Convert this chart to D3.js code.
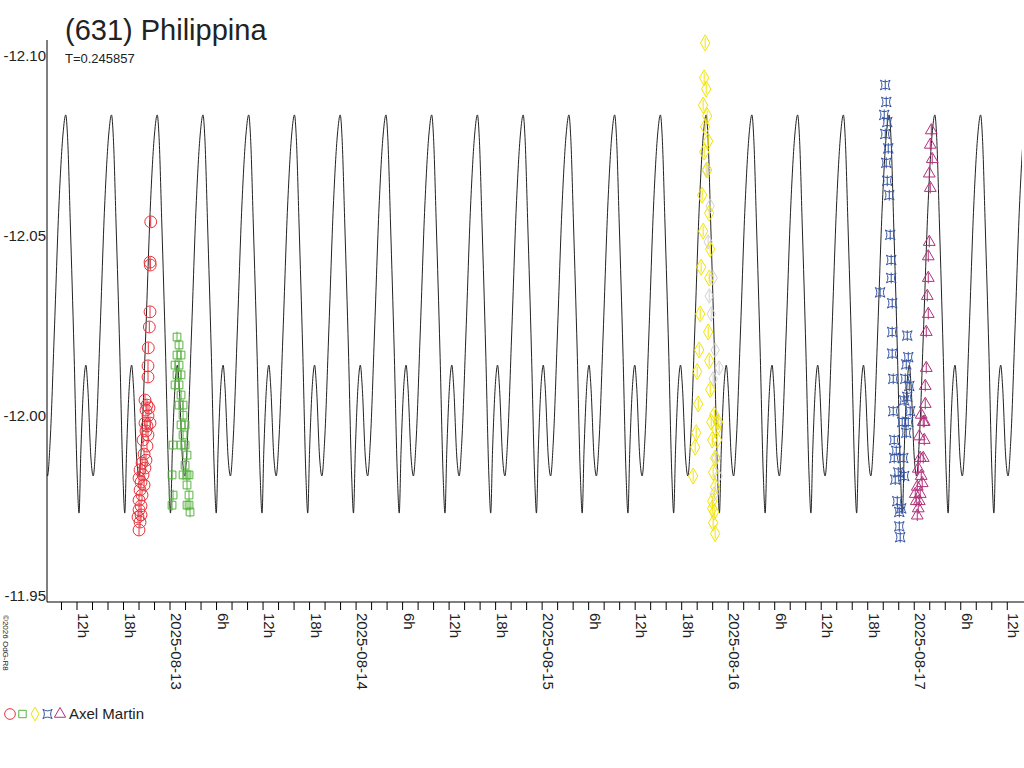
<!DOCTYPE html>
<html><head><meta charset="utf-8">
<script src="https://cdn.jsdelivr.net/npm/d3@7"></script>
<style>body{margin:0;background:#fff}svg{font-family:"Liberation Sans",Arial,sans-serif}</style>
</head><body><svg id="c" width="1024" height="768"></svg>
<script>
const TITLE = "(631) Philippina";
const PERIOD = 0.245857;           // days
const EPOCH_H = -13.45;            // hours from 2025-08-13 00:00, main maximum
// one period of the fitted lightcurve: [phase, mag]
const shape = [[0,-12.0853],[0.04,-12.079],[0.10,-12.055],[0.18,-12.02],[0.25,-11.985],[0.29,-11.9747],
  [0.33,-11.992],[0.40,-12.012],[0.44,-12.0158],[0.48,-12.010],[0.55,-11.99],[0.60,-11.985],
  [0.66,-11.995],[0.75,-12.025],[0.85,-12.06],[0.94,-12.08]];
const yTicks = [-12.10,-12.05,-12.00,-11.95];
const dayLabels = ["2025-08-13","2025-08-14","2025-08-15","2025-08-16","2025-08-17"];
const observer = "Axel Martin";
// observations: [hours from 2025-08-13 00:00, mag]
const red = [[-2.49,-12.0556],[-2.58,-12.0444],[-2.55,-12.0436],[-2.58,-12.0306],[-2.67,-12.0264],[-2.80,-12.0206],[-2.84,-12.0156],[-2.84,-12.0125],[-3.23,-12.0061],[-2.97,-12.0047],[-2.71,-12.0039],[-3.10,-12.0033],[-2.84,-12.0017],[-3.23,-11.9997],[-2.97,-11.9989],[-2.58,-11.9997],[-3.10,-11.9975],[-2.84,-11.9964],[-3.48,-11.995],[-2.97,-11.9933],[-3.35,-11.9911],[-3.10,-11.9894],[-3.61,-11.9886],[-3.23,-11.9872],[-3.87,-11.9867],[-3.48,-11.9853],[-4.0,-11.9844],[-3.74,-11.9833],[-3.35,-11.9825],[-3.87,-11.9811],[-3.61,-11.9797],[-4.0,-11.9783],[-3.74,-11.9767],[-4.0,-11.9756],[-3.74,-11.9742],[-4.13,-11.9736],[-3.87,-11.9722],[-4.0,-11.97]];
const green = [[0.90,-12.0236],[1.16,-12.0214],[0.90,-12.0186],[1.42,-12.0186],[0.65,-12.0158],[1.16,-12.0158],[1.42,-12.0131],[0.90,-12.0131],[1.16,-12.0103],[0.65,-12.0103],[1.42,-12.0075],[1.68,-12.0047],[1.16,-12.0047],[1.68,-12.0019],[1.42,-11.9992],[1.94,-11.9992],[1.68,-11.9964],[1.94,-11.9936],[1.42,-11.9936],[2.19,-11.9908],[1.94,-11.988],[2.19,-11.9853],[1.68,-11.9853],[2.45,-11.9853],[2.19,-11.9825],[2.45,-11.9797],[2.19,-11.9769],[2.58,-11.975],[0.39,-11.9936],[0.26,-11.9853],[0.39,-11.9797],[0.26,-11.9769],[2.45,-11.9769]];
const grey = [[69.16,-12.07],[69.68,-12.06],[69.42,-12.05],[70.06,-12.04],[69.81,-12.03],[70.32,-12.02],[70.06,-12.012],[70.58,-12.0],[70.45,-11.99],[70.84,-12.015],[69.55,-12.035],[70.19,-11.98],[70.71,-11.985]];
const yellow = [[69.03,-12.1053],[68.9,-12.0956],[69.16,-12.0925],[68.77,-12.088],[69.29,-12.085],[69.03,-12.082],[69.42,-12.078],[68.9,-12.075],[69.29,-12.07],[68.64,-12.063],[69.55,-12.058],[68.77,-12.053],[69.68,-12.048],[68.51,-12.043],[69.55,-12.04],[68.39,-12.03],[69.42,-12.025],[68.26,-12.02],[69.55,-12.017],[68.0,-12.014],[69.68,-12.009],[68.13,-12.005],[69.81,-12.0],[67.87,-11.997],[70.2,-12.002],[67.74,-11.993],[70.45,-11.998],[69.94,-11.995],[70.32,-11.99],[67.48,-11.985],[70.06,-11.986],[70.32,-11.982],[69.94,-11.978],[70.19,-11.975],[70.06,-11.972],[70.32,-11.969],[69.94,-11.976],[70.58,-11.995],[70.71,-12.0]];
const blue = [[92.26,-12.0936],[92.39,-12.0889],[92.13,-12.0853],[92.52,-12.0833],[92.26,-12.08],[92.65,-12.076],[92.39,-12.072],[92.52,-12.067],[92.78,-12.063],[92.9,-12.052],[93.03,-12.045],[93.03,-12.04],[93.16,-12.033],[91.6,-12.036],[93.16,-12.025],[93.16,-12.019],[93.29,-12.012],[93.29,-12.003],[93.42,-11.995],[93.42,-11.99],[93.55,-11.984],[93.68,-11.992],[93.94,-11.986],[93.81,-11.978],[94.07,-11.975],[94.07,-11.971],[94.19,-11.968],[94.32,-11.976],[94.58,-11.99],[94.45,-12.0],[94.71,-12.006],[94.84,-12.012],[94.97,-12.016],[95.1,-12.024],[95.23,-12.018],[95.36,-12.01],[95.48,-12.003],[95.23,-12.0],[94.97,-11.997],[95.1,-12.007],[94.71,-11.985]];
const magenta = [[98.2,-12.081],[98.07,-12.077],[98.32,-12.073],[97.94,-12.069],[98.07,-12.065],[97.94,-12.05],[97.81,-12.046],[97.81,-12.04],[97.68,-12.035],[97.81,-12.03],[97.55,-12.025],[97.55,-12.015],[97.42,-12.01],[97.42,-12.005],[97.29,-12.0],[97.29,-11.995],[97.16,-11.99],[97.16,-12.0],[96.9,-12.002],[96.65,-11.996],[96.77,-11.99],[96.52,-11.987],[96.9,-11.985],[96.39,-11.982],[96.77,-11.98],[96.26,-11.978],[96.52,-11.976],[96.13,-11.98],[97.03,-11.983],[96.39,-11.974],[96.65,-11.978]];

const svg = d3.select("#c");
const L = 47, R = 1022, T = 62, B = 602;
const x = d3.scaleLinear().domain([-15.87, 109.9]).range([L, R]);
const y = d3.scaleLinear().domain([-12.10, -11.95]).range([T, B]);

// astroid star like the original
const astroid = {draw(ctx, size){ const r = Math.sqrt(size)/1.6;
  ctx.moveTo(-r,-r); ctx.quadraticCurveTo(0,-r*0.35,r,-r); ctx.quadraticCurveTo(r*0.35,0,r,r);
  ctx.quadraticCurveTo(0,r*0.35,-r,r); ctx.quadraticCurveTo(-r*0.35,0,-r,-r); ctx.closePath(); }};

const series = [
  {data: red, color: "#e8333c", type: d3.symbolCircle, size: 110},
  {data: green, color: "#58b440", type: d3.symbolSquare, size: 60},
  {data: grey, color: "#d2d2d2", type: d3.symbolDiamond, size: 60},
  {data: yellow, color: "#f2e400", type: d3.symbolDiamond, size: 75},
  {data: blue, color: "#3454a4", type: astroid, size: 60},
  {data: magenta, color: "#b3307c", type: d3.symbolTriangle, size: 60}
];

// model curve, one shape repeated each period
const P = PERIOD * 24;
const curvePts = [];
for (let k = Math.floor((x.domain()[0] - EPOCH_H) / P) - 1; EPOCH_H + k * P < x.domain()[1] + P; k++)
  shape.forEach(s => curvePts.push([EPOCH_H + (k + s[0]) * P, s[1]]));
svg.append("defs").append("clipPath").attr("id", "clip")
  .append("rect").attr("x", L).attr("y", 0).attr("width", R - L).attr("height", B);
svg.append("path").attr("clip-path", "url(#clip)")
  .attr("d", d3.line().x(d => x(d[0])).y(d => y(d[1])).curve(d3.curveMonotoneX)(curvePts))
  .attr("fill", "none").attr("stroke", "#222").attr("stroke-width", 1);

// observations
series.forEach(s => {
  const g = svg.append("g");
  g.selectAll("line").data(s.data).join("line")
    .attr("x1", d => x(d[0])).attr("x2", d => x(d[0]))
    .attr("y1", d => y(d[1] - 0.0015)).attr("y2", d => y(d[1] + 0.0015))
    .attr("stroke", s.color);
  g.selectAll("path").data(s.data).join("path")
    .attr("transform", d => `translate(${x(d[0])},${y(d[1])})`)
    .attr("d", d3.symbol(s.type, s.size)).attr("fill", "none").attr("stroke", s.color);
});

// axes
svg.append("line").attr("x1", L).attr("x2", L).attr("y1", 40).attr("y2", B).attr("stroke", "#000");
svg.append("line").attr("x1", L).attr("x2", 1024).attr("y1", B).attr("y2", B).attr("stroke", "#000");
yTicks.forEach(v => {
  svg.append("text").attr("x", L - 1).attr("y", y(v) - 1).attr("text-anchor", "end")
    .attr("font-size", 15).attr("fill", "#222").text(v.toFixed(2));
});
const ticks = d3.range(Math.ceil(x.domain()[0] / 2) * 2, x.domain()[1], 2);
svg.append("g").selectAll("line").data(ticks).join("line")
  .attr("x1", d => x(d)).attr("x2", d => x(d)).attr("y1", B).attr("y2", B + 8).attr("stroke", "#000");
svg.append("g").selectAll("text").data(ticks.filter(h => ((h % 6) + 6) % 6 === 0)).join("text")
  .attr("transform", d => `translate(${x(d) + 1},${B + 11}) rotate(90)`)
  .attr("font-size", 15).attr("fill", "#222")
  .text(d => { const hh = ((d % 24) + 24) % 24; return hh === 0 ? dayLabels[d / 24] : hh + "h"; });

// titles and notes
svg.append("text").attr("x", 65).attr("y", 40).attr("font-size", 29).attr("fill", "#222").text(TITLE);
svg.append("text").attr("x", 65).attr("y", 63).attr("font-size", 13).attr("fill", "#222").text("T=" + PERIOD);
svg.append("text").attr("transform", "translate(3,615) rotate(90)").attr("font-size", 8).attr("fill", "#222").text("©2026 OdG-R8");

// legend
const lg = svg.append("g").attr("transform", "translate(10,714)");
series.filter(s => s.color !== "#d2d2d2").concat([]).forEach((s, i) => {});
const legendOrder = [0, 1, 2, 4, 5];
legendOrder.forEach((si, i) => {
  const s = series[si];
  lg.append("path").attr("transform", `translate(${i * 12.5},0)`)
    .attr("d", d3.symbol(s.type, si === 0 ? 90 : 55)).attr("fill", "none")
    .attr("stroke", si === 2 ? "#f2e400" : s.color);
});
svg.append("text").attr("x", 69).attr("y", 719).attr("font-size", 15).attr("fill", "#222").text(observer);
</script></body></html>
